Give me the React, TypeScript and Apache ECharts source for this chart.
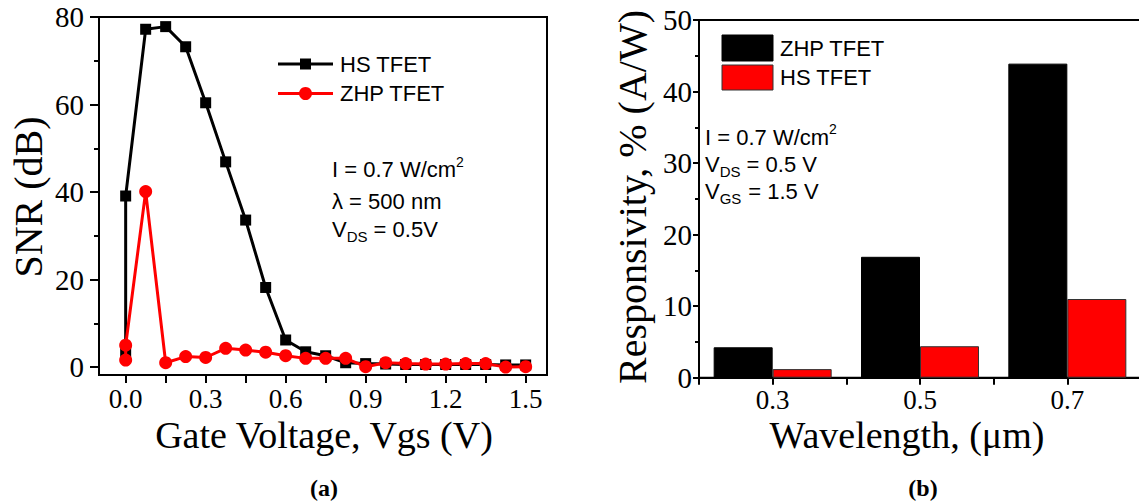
import React, { useEffect, useRef } from "react";
import * as echarts from "echarts";

// ---------- data ----------
const gateVoltage = [0, 0, 0.075, 0.15, 0.225, 0.3, 0.375, 0.45, 0.525, 0.6, 0.675, 0.75, 0.825, 0.9, 0.975, 1.05, 1.125, 1.2, 1.275, 1.35, 1.425, 1.5];
const hsSNR = [3.5, 39.1, 77.2, 77.8, 73.2, 60.4, 46.9, 33.6, 18.2, 6.2, 3.5, 2.6, 1.0, 0.8, 0.7, 0.6, 0.6, 0.6, 0.6, 0.6, 0.5, 0.5];
const zhpSNR = [1.6, 5.0, 40.1, 1.0, 2.4, 2.2, 4.3, 3.9, 3.4, 2.6, 2.0, 2.0, 2.0, 0.1, 1.0, 0.8, 0.7, 0.7, 0.8, 0.8, 0.0, 0.1];

const wavelengths = [0.3, 0.5, 0.7];
const zhpResponsivity = [4.25, 16.9, 43.9];
const hsResponsivity = [1.2, 4.4, 11.0];

const snrMajorTicks = [0, 20, 40, 60, 80];
const snrMinorTicks = [10, 30, 50, 70];
const gateTicks = [0, 0.15, 0.3, 0.45, 0.6, 0.75, 0.9, 1.05, 1.2, 1.35, 1.5];
const gateLabels = [0, 0.3, 0.6, 0.9, 1.2, 1.5];
const waveTicks = [0.2, 0.3, 0.4, 0.5, 0.6, 0.7, 0.8];
const waveLabels = [0.3, 0.5, 0.7];

const SANS = '"Liberation Sans", Arial, sans-serif';
const SERIF = '"Liberation Serif", "Times New Roman", serif';

function txt(x: number, y: number, text: string, font: string, extra: any = {}) {
  return {
    type: "text",
    x,
    y,
    z: 100,
    style: { text, font, fill: "#000", align: "left", verticalAlign: "middle", ...extra },
  };
}

// text with a subscript: main part, sub part, remaining part (Arial metrics)
function subText(x: number, y: number, main: string, mainW: number, sub: string, subW: number, rest: string) {
  return [
    txt(x, y, main, `22px ${SANS}`),
    txt(x + mainW, y + 7, sub, `15px ${SANS}`),
    txt(x + mainW + subW, y, rest, `22px ${SANS}`),
  ];
}

function supText(x: number, y: number, main: string, mainW: number, sup: string) {
  return [txt(x, y, main, `22px ${SANS}`), txt(x + mainW, y - 8, sup, `14px ${SANS}`)];
}

export default function App() {
  const ref = useRef<HTMLDivElement>(null);

  useEffect(() => {
    if (!ref.current) return;
    const chart = echarts.init(ref.current, null, { renderer: "svg" });

    const axisLine = { show: true, onZero: false, lineStyle: { color: "#000", width: 2 } };
    const labelStyle = { color: "#000", fontFamily: SERIF, fontSize: 29 };
    const xLabelStyle = { color: "#000", fontFamily: SERIF, fontSize: 27, lineHeight: 22 };

    const graphic: any[] = [
      // left legend
      { type: "line", z: 100, shape: { x1: 278, y1: 64, x2: 333, y2: 64 }, style: { stroke: "#000", lineWidth: 3 } },
      { type: "rect", z: 101, shape: { x: 300, y: 58.5, width: 11, height: 11 }, style: { fill: "#000" } },
      txt(340, 64, "HS TFET", `22px ${SANS}`),
      { type: "line", z: 100, shape: { x1: 278, y1: 93.5, x2: 333, y2: 93.5 }, style: { stroke: "#ff0000", lineWidth: 3 } },
      { type: "circle", z: 101, shape: { cx: 305.5, cy: 93.5, r: 6.5 }, style: { fill: "#ff0000" } },
      txt(340, 93.5, "ZHP TFET", `22px ${SANS}`),
      // left annotations
      ...supText(332, 169.5, "I = 0.7 W/cm", 124.1, "2"),
      txt(332, 201.5, "λ = 500 nm", `22px ${SANS}`),
      ...subText(332, 229, "V", 14.7, "DS", 20.8, " = 0.5V"),
      // right legend
      { type: "rect", z: 100, shape: { x: 722, y: 35, width: 51, height: 26 }, style: { fill: "#000", stroke: "#000", lineWidth: 1 } },
      txt(780, 48, "ZHP TFET", `22px ${SANS}`),
      { type: "rect", z: 100, shape: { x: 722, y: 65, width: 51, height: 25 }, style: { fill: "#ff0000", stroke: "#333", lineWidth: 1 } },
      txt(780, 77.5, "HS TFET", `22px ${SANS}`),
      // right annotations
      ...supText(705, 137, "I = 0.7 W/cm", 124.1, "2"),
      ...subText(705, 164, "V", 14.7, "DS", 20.8, " = 0.5 V"),
      ...subText(705, 191, "V", 14.7, "GS", 22.5, " = 1.5 V"),
      // axis titles
      {
        type: "text", x: 28, y: 197, rotation: Math.PI / 2, z: 100,
        style: { text: "SNR (dB)", font: `40px ${SERIF}`, fill: "#000", align: "center", verticalAlign: "middle" },
      },
      {
        type: "text", x: 632, y: 197, rotation: Math.PI / 2, z: 100,
        style: { text: "Responsivity, % (A/W)", font: `40px ${SERIF}`, fill: "#000", align: "center", verticalAlign: "middle" },
      },
      txt(324, 435, "Gate Voltage, Vgs (V)", `38px ${SERIF}`, { align: "center", lineHeight: 28 }),
      txt(907, 435, "Wavelength, (μm)", `38px ${SERIF}`, { align: "center", lineHeight: 28 }),
      txt(324, 488, "(a)", `bold 24px ${SERIF}`, { align: "center" }),
      txt(923, 488, "(b)", `bold 24px ${SERIF}`, { align: "center" }),
    ];

    const option: any = {
      animation: false,
      backgroundColor: "#fff",
      grid: [
        { left: 99, top: 17, width: 448, height: 358, show: true, borderColor: "#000", borderWidth: 2, containLabel: false, outerBoundsMode: "none" },
        { left: 699, top: 20, width: 442, height: 357.7, show: true, borderColor: "#000", borderWidth: 2, containLabel: false, outerBoundsMode: "none" },
      ],
      xAxis: [
        {
          type: "value", gridIndex: 0, min: -0.1, max: 1.58,
          axisLine: axisLine,
          axisTick: { show: true, inside: false, length: 8, lineStyle: { width: 2, color: "#000" }, customValues: gateTicks },
          axisLabel: { ...xLabelStyle, margin: 13, customValues: gateLabels, formatter: (v: number) => v.toFixed(1) },
          splitLine: { show: false },
        },
        {
          type: "value", gridIndex: 1, min: 0.2, max: 0.8,
          axisLine: axisLine,
          axisTick: { show: true, inside: false, length: 7, lineStyle: { width: 2, color: "#000" }, customValues: waveTicks },
          axisLabel: { ...xLabelStyle, margin: 11, customValues: waveLabels, formatter: (v: number) => v.toFixed(1) },
          splitLine: { show: false },
        },
      ],
      yAxis: [
        {
          type: "value", gridIndex: 0, min: -1.8, max: 80,
          axisLine: axisLine,
          axisTick: { show: true, inside: false, length: 9, lineStyle: { width: 2, color: "#000" }, customValues: snrMajorTicks },
          axisLabel: { ...labelStyle, margin: 15, customValues: snrMajorTicks },
          splitLine: { show: false },
        },
        {
          type: "value", gridIndex: 0, min: -1.8, max: 80, position: "left",
          axisLine: { show: false, onZero: false },
          axisTick: { show: true, inside: false, length: 5, lineStyle: { width: 2, color: "#000" }, customValues: snrMinorTicks },
          axisLabel: { show: false },
          splitLine: { show: false },
        },
        {
          type: "value", gridIndex: 1, min: 0, max: 50, interval: 10,
          axisLine: axisLine,
          axisTick: { show: true, inside: false, length: 6, lineStyle: { width: 2, color: "#000" } },
          minorTick: { show: true, splitNumber: 2, length: 4, lineStyle: { width: 2, color: "#000" } },
          axisLabel: { ...labelStyle, margin: 7 },
          splitLine: { show: false },
        },
      ],
      series: [
        {
          name: "HS TFET", type: "line", xAxisIndex: 0, yAxisIndex: 0,
          data: gateVoltage.map((v, i) => [v, hsSNR[i]]),
          symbol: "rect", symbolSize: 11,
          lineStyle: { color: "#000", width: 3 },
          itemStyle: { color: "#000" },
          z: 3,
        },
        {
          name: "ZHP TFET", type: "line", xAxisIndex: 0, yAxisIndex: 0,
          data: gateVoltage.map((v, i) => [v, zhpSNR[i]]),
          symbol: "circle", symbolSize: 13,
          lineStyle: { color: "#ff0000", width: 3 },
          itemStyle: { color: "#ff0000" },
          z: 4,
        },
        {
          name: "ZHP TFET", type: "bar", xAxisIndex: 1, yAxisIndex: 2,
          data: wavelengths.map((w, i) => [w, zhpResponsivity[i]]),
          barWidth: 59, barGap: "0%",
          itemStyle: { color: "#000", borderColor: "#000", borderWidth: 1 },
        },
        {
          name: "HS TFET", type: "bar", xAxisIndex: 1, yAxisIndex: 2,
          data: wavelengths.map((w, i) => [w, hsResponsivity[i]]),
          barWidth: 59, barGap: "0%",
          itemStyle: { color: "#ff0000", borderColor: "#333", borderWidth: 1 },
        },
      ],
      graphic,
    };

    chart.setOption(option);
    return () => chart.dispose();
  }, []);

  return (
    <div
      ref={ref}
      style={{ position: "fixed", left: 0, top: 0, width: 1139, height: 502, background: "#fff" }}
    />
  );
}
